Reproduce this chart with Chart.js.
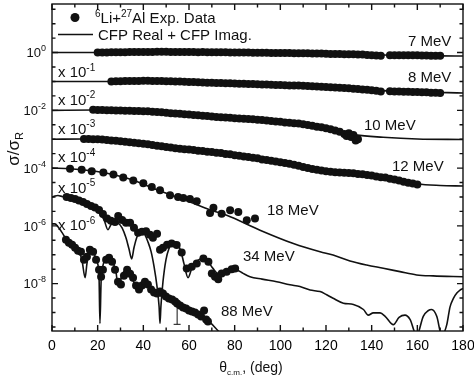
<!DOCTYPE html>
<html><head><meta charset="utf-8">
<script src="https://cdn.jsdelivr.net/npm/chart.js@4.4.1/dist/chart.umd.min.js"></script>
<style>html,body{margin:0;padding:0;background:#fff;}#wrap{width:474px;height:380px;}</style>
</head><body><div id="wrap"><canvas id="c" width="474" height="380"></canvas></div>
<script>
// ---------- data (sigma/sigma_R, unscaled; angles in deg c.m.) ----------
const energies = ['7 MeV','8 MeV','10 MeV','12 MeV','18 MeV','34 MeV','88 MeV'];
const factors = [1, 1e-1, 1e-2, 1e-3, 1e-4, 1e-5, 1e-6];
const factorExps = ['', '-1', '-2', '-3', '-4', '-5', '-6'];
const yTickExps = [0, -2, -4, -6, -8];

const exp7Deg = [20,22,24,26,28,30,32,34,36,38,40,42,44,46,48,50,52,54,56,58,60,62,64,66,68,70,72,74,76,78,80,82,84,86,88,90,92,94,96,98,100,102,104,106,108,110,112,114,116,118,120,122,124,126,128,130,132,134,136,138,140,142,144,148,150,152,154,156,158,160,162,164,166,168,170];
const exp7Val = [1.00,1.01,1.01,1.02,1.02,1.03,1.03,1.04,1.04,1.05,1.05,1.05,1.05,1.06,1.06,1.06,1.05,1.05,1.04,1.05,1.04,1.04,1.03,1.04,1.03,1.03,1.02,1.02,1.02,1.01,1.01,1.00,1.00,1.00,0.99,0.99,0.98,0.98,0.97,0.97,0.97,0.96,0.96,0.95,0.95,0.95,0.94,0.93,0.93,0.92,0.91,0.90,0.90,0.89,0.88,0.87,0.87,0.86,0.85,0.83,0.81,0.79,0.77,0.80,0.81,0.81,0.81,0.80,0.80,0.80,0.79,0.79,0.78,0.78,0.77];
const fit7Deg = [0,20,45,65,90,110,130,150,170,180];
const fit7Val = [1.0,1.0,1.05,1.04,0.99,0.95,0.87,0.81,0.77,0.76];

const exp8Deg = [26,28,30,32,34,36,38,40,42,44,46,48,50,52,54,56,58,60,62,64,66,68,70,72,74,76,78,80,82,84,86,88,90,92,94,96,98,100,102,104,106,108,110,112,114,116,118,120,122,124,126,128,130,132,134,136,138,140,142,144,148,150,152,154,156,158,160,162,164,166,168,170];
const exp8Val = [1.00,1.01,1.02,1.03,1.03,1.04,1.04,1.05,1.05,1.04,1.04,1.03,1.02,1.01,1.00,0.99,0.97,0.96,0.95,0.94,0.92,0.91,0.90,0.89,0.88,0.87,0.86,0.85,0.84,0.83,0.82,0.81,0.80,0.79,0.78,0.77,0.76,0.75,0.74,0.73,0.72,0.72,0.71,0.69,0.68,0.67,0.65,0.64,0.63,0.62,0.60,0.59,0.58,0.56,0.55,0.53,0.52,0.50,0.48,0.45,0.46,0.45,0.45,0.44,0.44,0.43,0.43,0.42,0.42,0.41,0.41,0.40];
const fit8Deg = [0,25,40,60,80,100,120,140,160,180];
const fit8Val = [1.0,1.0,1.05,0.96,0.85,0.75,0.64,0.50,0.43,0.40];

const exp10Deg = [18,20,22,24,26,28,30,32,34,36,38,40,42,44,46,48,50,52,54,56,58,60,62,64,66,68,70,72,74,76,78,80,82,84,86,88,90,92,94,96,98,100,102,104,106,108,110,112,114,116,118,120,122,124,126,128,129,130,131,132,133,134];
const exp10Val = [1.04,1.03,1.02,1.01,1.00,0.99,0.98,0.97,0.96,0.95,0.94,0.93,0.92,0.90,0.88,0.85,0.83,0.80,0.78,0.76,0.73,0.71,0.69,0.67,0.65,0.63,0.61,0.59,0.58,0.56,0.55,0.53,0.52,0.51,0.50,0.49,0.47,0.46,0.44,0.43,0.41,0.40,0.38,0.37,0.36,0.35,0.33,0.31,0.29,0.27,0.26,0.24,0.22,0.20,0.18,0.15,0.13,0.16,0.12,0.14,0.09,0.10];
const fit10Deg = [0,18,40,60,80,100,120,133,145,160,180];
const fit10Val = [1.0,1.03,0.93,0.71,0.53,0.40,0.24,0.141,0.117,0.102,0.098];

const exp12Deg = [14,16,18,20,22,24,26,28,30,32,34,36,38,40,42,44,46,48,50,52,54,56,58,60,62,64,66,68,70,72,74,76,78,80,82,84,86,88,90,92,94,96,98,100,102,104,106,108,110,112,114,116,118,120,122,124,126,128,130,132,134,136,138,140,142,144,146,148,150,152,154,156,158,160];
const exp12Val = [1.02,1.01,1.00,0.99,0.97,0.94,0.91,0.88,0.85,0.82,0.79,0.76,0.73,0.70,0.67,0.63,0.59,0.57,0.54,0.52,0.49,0.47,0.45,0.44,0.42,0.40,0.39,0.37,0.36,0.34,0.33,0.31,0.30,0.28,0.27,0.25,0.24,0.23,0.22,0.20,0.19,0.18,0.17,0.16,0.15,0.14,0.13,0.12,0.11,0.10,0.093,0.088,0.083,0.078,0.074,0.072,0.070,0.069,0.068,0.066,0.063,0.061,0.058,0.055,0.051,0.048,0.047,0.043,0.040,0.037,0.034,0.031,0.029,0.027];
const fit12Deg = [0,14,30,50,70,90,110,125,140,160,170,180];
const fit12Val = [1.0,1.02,0.85,0.54,0.36,0.22,0.11,0.071,0.055,0.028,0.025,0.024];

const exp18Deg = [7.9,13.0,17.4,22.5,26.9,31.2,35.6,40.0,43.7,47.3,51.7,55.2,57.5,60.4,63.4,69.2,70.7,74.3,78.0,81.6,85.3,88.9];
const exp18Val = [0.95,0.87,0.77,0.70,0.60,0.47,0.37,0.30,0.22,0.17,0.115,0.100,0.092,0.085,0.071,0.028,0.042,0.0265,0.035,0.030,0.0157,0.0179];
const fit18Deg = [0,7.9,21,34,47.3,60.4,69.2,76.5,91.1,105.7,117.4,123.1,130.5,137.8,145.1,152.4,159.7,166.9,180];
const fit18Val = [1.0,0.95,0.73,0.42,0.161,0.067,0.0357,0.0234,0.0071,0.00245,0.00127,0.00098,0.00061,0.00044,0.00034,0.00026,0.0002,0.000185,0.000174];

const exp34Deg = [6.4,8.3,10.1,11.8,13.6,15.3,17.1,18.8,20.6,22.3,24.1,25.8,27.6,29.0,30.7,32.4,34.2,35.9,37.7,39.4,41.2,42.9,44.2,46.0,47.3,48.6,50.4,52.4,54.6,56.8,59.0,61.2,63.4,66.3,68.5,70.0,71.4,72.8,74.3,76.5,78.7,80.2];
const exp34Val = [1.0,0.924,0.853,0.757,0.673,0.574,0.490,0.435,0.356,0.259,0.179,0.149,0.137,0.221,0.161,0.127,0.127,0.0853,0.0574,0.0621,0.0646,0.049,0.0386,0.053,0.0149,0.0174,0.0221,0.0245,0.0216,0.0120,0.00337,0.00386,0.00501,0.00745,0.00574,0.00226,0.00174,0.00143,0.00226,0.00259,0.00316,0.00337];
const fit34Deg = [0,1.3,2.6,4.4,6.1,8.8,12.3,15.8,18.8,21.0,22.8,24.5,25.8,27.2,28.9,30.7,32.4,33.7,34.9,35.9,37.2,38.5,39.4,40.7,42.0,43.4,44.7,46.0,46.9,47.3,47.7,48.6,49.9,51.2,52.6,53.9,55.2,56.5,57.8,59.6,61.3,63.5,66.1,68.3,70.5,72.7,74.5,77.1,79.3,81.0,83.7,86.7,92.0,98.4,104.2,108.6,113.0,117.4,120.3,123.1,127.6,132.0,136.4,138.5,140.7,143.7,145.9,149.5,152.0,154.6,156.8,159.7,162.6,164.7,166.3,168.5,170.7,172.9,174.3,175.8,177.4,178.7,180];
const fit34Val = [1.0,1.08,1.12,1.04,0.96,0.853,0.70,0.53,0.39,0.259,0.161,0.0735,0.109,0.137,0.127,0.0853,0.0386,0.0161,0.0072,0.0174,0.0412,0.0574,0.0621,0.049,0.0283,0.0128,0.00386,0.00079,0.000162,0.000042,0.000162,0.00116,0.0067,0.0161,0.0259,0.028,0.0221,0.0128,0.00491,0.0016,0.00354,0.00614,0.00745,0.00574,0.00337,0.00226,0.00226,0.00287,0.00311,0.00299,0.00226,0.00174,0.00143,0.00116,0.00091,0.00079,0.00060,0.00053,0.00041,0.00031,0.00021,0.00019,0.000127,0.000081,0.000097,0.000097,0.000074,0.000038,0.000068,0.000081,0.000058,0.000016,0.000074,0.000115,0.000127,0.000074,0.000016,0.000038,0.000154,0.00031,0.00048,0.0006,0.00068];

const exp88Deg = [6.1,7.4,8.8,10.1,11.4,12.7,14.0,15.3,16.6,18.0,19.3,20.6,21.5,22.3,23.7,25.0,26.3,27.6,28.9,30.2,31.5,32.9,34.2,35.5,36.8,38.1,39.4,40.7,42.0,43.4,44.7,46.0,47.3,48.6,49.9,51.2,52.6,53.9,54.8,56.1,57.4,58.7,60.0,61.3,62.6,64.0,65.3,66.6,67.5,68.3];
const exp88Val = [0.329,0.259,0.221,0.174,0.137,0.127,0.0673,0.0853,0.149,0.127,0.0673,0.0304,0.0174,0.0304,0.0673,0.0788,0.0574,0.0304,0.0117,0.00924,0.0189,0.0304,0.0221,0.0161,0.00853,0.00621,0.00853,0.0117,0.00924,0.00621,0.0049,0.00452,0.0053,0.00452,0.00356,0.00304,0.00281,0.00239,0.00204,0.00174,0.00149,0.00137,0.00117,0.00108,0.00100,0.00085,0.00073,0.00117,0.00057,0.00049];
const fit88Deg = [0,1.3,2.6,3.9,5.3,6.6,7.9,9.2,10.5,11.8,13.1,14.5,15.3,16.2,17.1,18.0,18.8,19.7,20.6,21.0,21.5,22.3,23.2,24.1,25.4,26.7,28.0,28.9,29.8,31.1,32.4,33.7,35.5,37.2,38.5,39.9,41.2,42.5,44.2,46.0,47.7,49.5,51.7,53.9,56.1,58.3,60.5,62.6,64.8,67.0,69.2,71.4,74.5];
const fit88Val = [1.17,1.17,0.924,0.673,0.452,0.281,0.204,0.174,0.161,0.127,0.0673,0.0161,0.049,0.108,0.137,0.127,0.0924,0.0574,0.0174,0.000418,0.0117,0.0418,0.0673,0.0788,0.0728,0.053,0.0259,0.00853,0.0117,0.0239,0.0281,0.0221,0.0127,0.00673,0.0053,0.00853,0.0108,0.00924,0.00574,0.00452,0.0049,0.00452,0.00329,0.00239,0.00174,0.00137,0.00117,0.001,0.00085,0.00062,0.000452,0.000304,0.000161];

// one error bar on the 88 MeV set
const err88Deg = 54.8, err88Val = 0.00204, err88Low = 0.00039;

const expSets = [[exp7Deg,exp7Val],[exp8Deg,exp8Val],[exp10Deg,exp10Val],[exp12Deg,exp12Val],[exp18Deg,exp18Val],[exp34Deg,exp34Val],[exp88Deg,exp88Val]];
const fitSets = [[fit7Deg,fit7Val],[fit8Deg,fit8Val],[fit10Deg,fit10Val],[fit12Deg,fit12Val],[fit18Deg,fit18Val],[fit34Deg,fit34Val],[fit88Deg,fit88Val]];

// ---------- layout / style ----------
const FONT = '"Liberation Sans", Arial, Helvetica, sans-serif';
const INK = '#111';
const energyLabelPos = [[408,45.5],[408,81.5],[364,129.5],[392,170.5],[267,214.5],[243,260.5],[221,315.5]];
const factorLabelPos = [null,[58,77],[58,104.5],[58,133.5],[58,162],[58,192.5],[58,230]];

const datasets = [];
fitSets.forEach((s, i) => {
  datasets.push({
    data: s[0].map((d, k) => ({x: d, y: s[1][k] * factors[i]})),
    showLine: true, pointRadius: 0, pointHoverRadius: 0,
    borderColor: INK, borderWidth: 1.6, cubicInterpolationMode: 'monotone', fill: false
  });
});
expSets.forEach((s, i) => {
  datasets.push({
    data: s[0].map((d, k) => ({x: d, y: s[1][k] * factors[i]})),
    showLine: false, pointRadius: 4, pointHoverRadius: 0,
    pointBackgroundColor: INK, pointBorderWidth: 0, borderColor: INK
  });
});

function rich(ctx, x, y, parts, align) {
  let w = 0;
  parts.forEach(p => { ctx.font = p.size + 'px ' + FONT; p.w = ctx.measureText(p.t).width; w += p.w; });
  let cx = align === 'right' ? x - w : (align === 'center' ? x - w / 2 : x);
  ctx.textAlign = 'left'; ctx.textBaseline = 'alphabetic';
  parts.forEach(p => { ctx.font = p.size + 'px ' + FONT; ctx.fillText(p.t, cx, y + (p.dy || 0)); cx += p.w; });
}

const overlay = {
  id: 'overlay',
  afterDraw(chart) {
    const {ctx, chartArea: a, scales: {x, y}} = chart;
    ctx.save();
    ctx.strokeStyle = INK; ctx.fillStyle = INK; ctx.lineWidth = 1.4;
    // error bar
    const ex = x.getPixelForValue(err88Deg);
    const ey1 = y.getPixelForValue(err88Val * factors[6]);
    const ey2 = y.getPixelForValue(err88Low * factors[6]);
    ctx.lineWidth = 1;
    ctx.beginPath(); ctx.moveTo(ex, ey1); ctx.lineTo(ex, ey2); ctx.moveTo(ex - 3.5, ey2); ctx.lineTo(ex + 3.5, ey2); ctx.stroke();
    // frame
    ctx.lineWidth = 1.4;
    ctx.strokeRect(a.left, a.top, a.right - a.left, a.bottom - a.top);
    ctx.beginPath();
    for (let v = 0; v <= 180; v += 10) {
      const px = x.getPixelForValue(v);
      const len = v % 20 === 0 ? 6 : 3.5;
      ctx.moveTo(px, a.bottom); ctx.lineTo(px, a.bottom - len);
      ctx.moveTo(px, a.top); ctx.lineTo(px, a.top + len);
    }
    for (let e = -20; e <= 4; e++) {
      const val = Math.pow(10, e / 2);
      if (val < y.min || val > y.max) continue;
      const py = y.getPixelForValue(val);
      const len = e % 4 === 0 ? 6 : 3.5;
      ctx.moveTo(a.left, py); ctx.lineTo(a.left + len, py);
      ctx.moveTo(a.right, py); ctx.lineTo(a.right - len, py);
    }
    ctx.stroke();
    // y tick labels
    yTickExps.forEach(ex2 => {
      const py = y.getPixelForValue(Math.pow(10, ex2));
      rich(ctx, 46, py + 4.7, [{t: '10', size: 13}, {t: String(ex2), size: 9, dy: -6}], 'right');
    });
    // factor labels
    factorExps.forEach((fe, i) => {
      const p = factorLabelPos[i];
      if (!p) return;
      rich(ctx, p[0], p[1], [{t: 'x 10', size: 15}, {t: fe, size: 10, dy: -6.5}], 'left');
    });
    // energy labels
    energies.forEach((t, i) => {
      const p = energyLabelPos[i];
      rich(ctx, p[0], p[1], [{t: t, size: 15}], 'left');
    });
    // legend
    ctx.beginPath(); ctx.arc(75, 17.5, 4.5, 0, Math.PI * 2); ctx.fill();
    rich(ctx, 95, 23, [{t: '6', size: 10, dy: -6}, {t: 'Li+', size: 15}, {t: '27', size: 10, dy: -6}, {t: 'Al Exp. Data', size: 15}], 'left');
    ctx.lineWidth = 1.6;
    ctx.beginPath(); ctx.moveTo(58, 34.5); ctx.lineTo(93, 34.5); ctx.stroke();
    rich(ctx, 98, 40, [{t: 'CFP Real + CFP Imag.', size: 15}], 'left');
    // x title
    rich(ctx, 251, 372, [{t: 'θ', size: 14}, {t: 'c.m.', size: 8, dy: 3}, {t: ', (deg)', size: 14}], 'center');
    // y title
    ctx.translate(14, 149); ctx.rotate(-Math.PI / 2);
    rich(ctx, 0, 5, [{t: 'σ/σ', size: 17}, {t: 'R', size: 11, dy: 4}], 'center');
    ctx.restore();
  }
};

new Chart(document.getElementById('c'), {
  type: 'scatter',
  data: {datasets},
  options: {
    responsive: false, animation: false, devicePixelRatio: 1,
    layout: {padding: {top: 1, right: 11, left: 0, bottom: 0}},
    plugins: {legend: {display: false}, tooltip: {enabled: false}},
    events: [],
    scales: {
      x: {
        type: 'linear', min: 0, max: 180,
        grid: {display: false, drawTicks: false}, border: {display: false},
        ticks: {stepSize: 20, color: '#000', font: {size: 14, family: FONT}, padding: 7, maxRotation: 0, autoSkip: false},
        afterFit(s) { s.height = 49; s.paddingLeft = 0; s.paddingRight = 0; }
      },
      y: {
        type: 'logarithmic', min: 2.29e-10, max: 48,
        grid: {display: false, drawTicks: false}, border: {display: false},
        ticks: {display: false},
        afterFit(s) { s.width = 52; s.paddingTop = 0; s.paddingBottom = 0; }
      }
    }
  },
  plugins: [overlay]
});
</script></body></html>
